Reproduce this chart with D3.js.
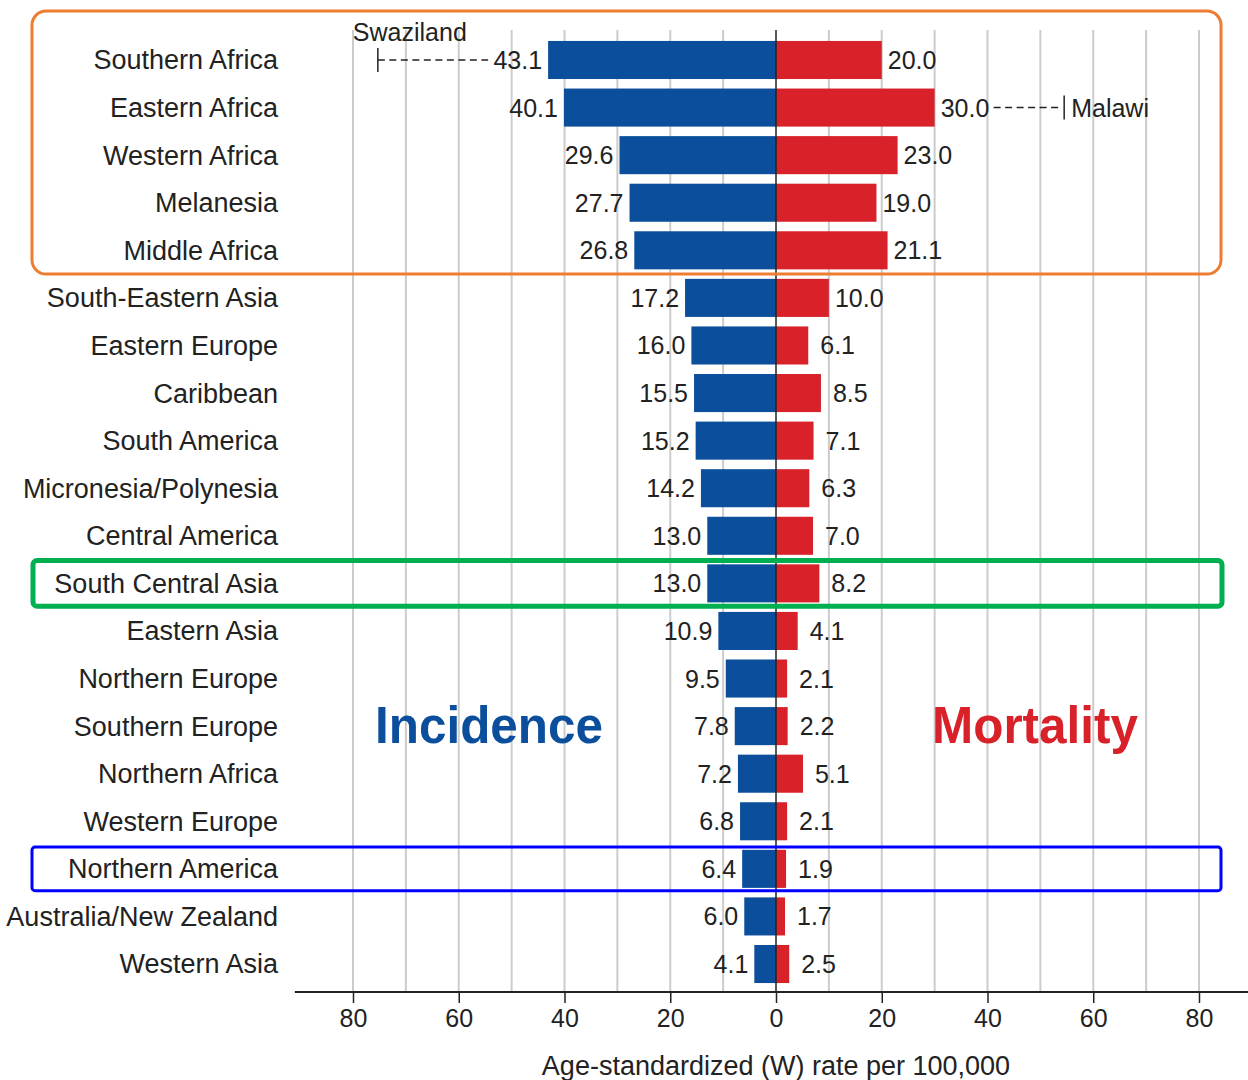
<!DOCTYPE html>
<html>
<head>
<meta charset="utf-8">
<title>Incidence and Mortality by region</title>
<style>
  body, html { margin: 0; padding: 0; background: #fff; }
  svg text { font-family: "Liberation Sans", Arial, sans-serif; fill: #222; }
</style>
</head>
<body>
<svg id="svg" width="1248" height="1080"></svg>
<script src="https://d3js.org/d3.v7.min.js"></script>
<script>
  const regions = ["Southern Africa", "Eastern Africa", "Western Africa", "Melanesia", "Middle Africa",
    "South-Eastern Asia", "Eastern Europe", "Caribbean", "South America", "Micronesia/Polynesia",
    "Central America", "South Central Asia", "Eastern Asia", "Northern Europe", "Southern Europe",
    "Northern Africa", "Western Europe", "Northern America", "Australia/New Zealand", "Western Asia"]
  const incidence = [43.1, 40.1, 29.6, 27.7, 26.8, 17.2, 16.0, 15.5, 15.2, 14.2, 13.0, 13.0, 10.9, 9.5, 7.8, 7.2, 6.8, 6.4, 6.0, 4.1]
  const mortality = [20.0, 30.0, 23.0, 19.0, 21.1, 10.0, 6.1, 8.5, 7.1, 6.3, 7.0, 8.2, 4.1, 2.1, 2.2, 5.1, 2.1, 1.9, 1.7, 2.5]
  const tickValues = [-80, -60, -40, -20, 0, 20, 40, 60, 80]
  const gridValues = d3.range(-80, 81, 10)
  // highest single-country values shown as markers
  const maxIncidence = { country: "Swaziland", region: "Southern Africa", value: 75.3 }
  const maxMortality = { country: "Malawi", region: "Eastern Africa", value: 54.5 }

  const blue = "#0b4f9c"
  const red = "#d82129"

  const svg = d3.select("#svg")

  const x = d3.scaleLinear().domain([-80, 80]).range([353, 1199])
  const y = d3.scaleBand().domain(regions).range([36.2, 987.8]).paddingInner(0.2).paddingOuter(0.1)
  const step = y.step()
  const bandTop = r => y(r) + y.bandwidth() / 2 - step / 2
  const mid = r => y(r) + y.bandwidth() / 2

  // grid
  svg.append("g").selectAll("line")
    .data(gridValues.filter(d => d !== 0))
    .join("line")
    .attr("x1", d => x(d)).attr("x2", d => x(d))
    .attr("y1", 30).attr("y2", 992)
    .attr("stroke", "#cccccc").attr("stroke-width", 2)

  const rows = regions.map((r, i) => ({ region: r, inc: incidence[i], mort: mortality[i] }))

  // bars
  svg.append("g").selectAll("rect")
    .data(rows).join("rect")
    .attr("x", d => x(-d.inc)).attr("y", d => y(d.region))
    .attr("width", d => x(0) - x(-d.inc)).attr("height", y.bandwidth())
    .attr("fill", blue)
  svg.append("g").selectAll("rect")
    .data(rows).join("rect")
    .attr("x", x(0)).attr("y", d => y(d.region))
    .attr("width", d => x(d.mort) - x(0)).attr("height", y.bandwidth())
    .attr("fill", red)

  // zero line
  svg.append("line")
    .attr("x1", x(0)).attr("x2", x(0)).attr("y1", 30).attr("y2", 992)
    .attr("stroke", "#222").attr("stroke-width", 1.5)

  // value labels
  svg.append("g").selectAll("text")
    .data(rows).join("text")
    .attr("x", d => x(-d.inc) - 6).attr("y", d => mid(d.region))
    .attr("dy", "0.36em").attr("text-anchor", "end")
    .style("font-size", "25px")
    .text(d => d.inc.toFixed(1))
  svg.append("g").selectAll("text")
    .data(rows).join("text")
    .attr("x", d => x(d.mort) + (d.mort >= 10 ? 6 : 12)).attr("y", d => mid(d.region))
    .attr("dy", "0.36em").attr("text-anchor", "start")
    .style("font-size", "25px")
    .text(d => d.mort.toFixed(1))

  // category labels
  svg.append("g").selectAll("text")
    .data(regions).join("text")
    .attr("x", 278).attr("y", d => mid(d))
    .attr("dy", "0.35em").attr("text-anchor", "end")
    .style("font-size", "27px")
    .text(d => d)

  // country max markers
  const ann = svg.append("g").attr("stroke", "#222").attr("stroke-width", 1.5)
  const ySw = mid(maxIncidence.region)
  ann.append("line")
    .attr("x1", x(-maxIncidence.value)).attr("x2", x(-maxIncidence.value))
    .attr("y1", ySw - 12).attr("y2", ySw + 12)
  ann.append("line")
    .attr("x1", x(-maxIncidence.value)).attr("x2", x(-43.1) - 60)
    .attr("y1", ySw).attr("y2", ySw).attr("stroke-dasharray", "7,4.5")
  svg.append("text")
    .attr("x", x(-maxIncidence.value) - 25).attr("y", ySw - 19)
    .style("font-size", "25px")
    .text(maxIncidence.country)

  const yMa = mid(maxMortality.region)
  ann.append("line")
    .attr("x1", x(30.0) + 59).attr("x2", x(maxMortality.value) - 3)
    .attr("y1", yMa).attr("y2", yMa).attr("stroke-dasharray", "7,4.5")
  ann.append("line")
    .attr("x1", x(maxMortality.value)).attr("x2", x(maxMortality.value))
    .attr("y1", yMa - 12).attr("y2", yMa + 12)
  svg.append("text")
    .attr("x", x(maxMortality.value) + 7).attr("y", yMa)
    .attr("dy", "0.36em")
    .style("font-size", "25px")
    .text(maxMortality.country)

  // axis
  const axis = svg.append("g")
    .attr("transform", "translate(0,992)")
    .call(d3.axisBottom(x).tickValues(tickValues).tickSize(11).tickSizeOuter(0).tickPadding(6)
      .tickFormat(d => Math.abs(d)))
  axis.select(".domain").attr("d", `M${x(-91)},0H1248`).attr("stroke", "#222").attr("stroke-width", 2)
  axis.selectAll(".tick line").attr("stroke", "#222").attr("stroke-width", 1.5)
  axis.selectAll(".tick text").style("font-size", "25px").attr("fill", "#222")
    .style("font-family", "'Liberation Sans', Arial, sans-serif")

  svg.append("text")
    .attr("x", x(0)).attr("y", 1075).attr("text-anchor", "middle")
    .style("font-size", "27px")
    .text("Age-standardized (W) rate per 100,000")

  // series titles
  svg.append("text")
    .attr("x", 375).attr("y", 743)
    .attr("textLength", 228).attr("lengthAdjust", "spacingAndGlyphs")
    .style("font-size", "52px").style("font-weight", "bold").style("fill", blue)
    .text("Incidence")
  svg.append("text")
    .attr("x", 932).attr("y", 743)
    .attr("textLength", 206).attr("lengthAdjust", "spacingAndGlyphs")
    .style("font-size", "52px").style("font-weight", "bold").style("fill", red)
    .text("Mortality")

  // highlight boxes
  const boxes = svg.append("g").attr("fill", "none")
  boxes.append("rect")
    .attr("x", 32).attr("y", 11)
    .attr("width", 1189).attr("height", bandTop("Middle Africa") + step - 11)
    .attr("rx", 14).attr("stroke", "#ed7d31").attr("stroke-width", 3)
  boxes.append("rect")
    .attr("x", 33).attr("y", bandTop("South Central Asia") + 1)
    .attr("width", 1189).attr("height", step - 2)
    .attr("rx", 4).attr("stroke", "#00b050").attr("stroke-width", 5)
  boxes.append("rect")
    .attr("x", 32).attr("y", bandTop("Northern America") + 2)
    .attr("width", 1189).attr("height", step - 4)
    .attr("rx", 3).attr("stroke", "#0000ff").attr("stroke-width", 3)
</script>
</body>
</html>
